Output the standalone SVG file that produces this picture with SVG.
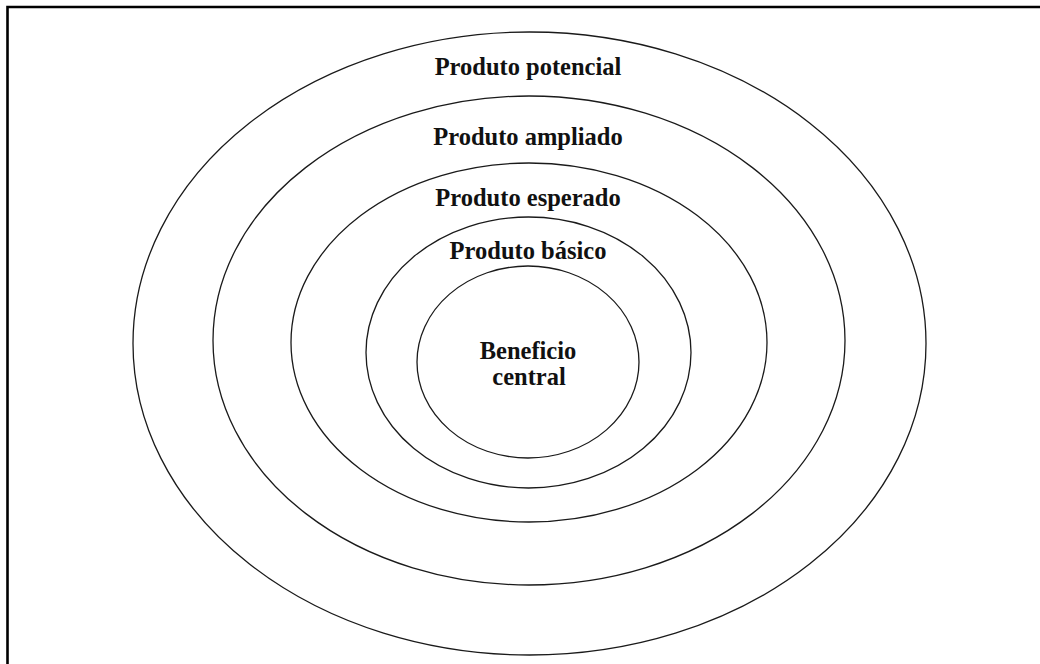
<svg xmlns="http://www.w3.org/2000/svg" width="1040" height="664" viewBox="0 0 1040 664">
<style>
.ring{fill:none;stroke:#1a1a1a;stroke-width:1.3}
.lbl{font-family:"Liberation Serif","Times New Roman",serif;font-weight:bold;font-size:24.5px;fill:#111;text-anchor:middle}
.frame{fill:none;stroke:#000;stroke-width:2.6}
</style>
<rect width="1040" height="664" fill="#fff"/>
<path class="frame" d="M7.5 664 V7 H1040"/>
<g id="produto-potencial">
<ellipse class="ring" cx="529.5" cy="343.5" rx="396.5" ry="311.5"/>
<text class="lbl" x="528" y="75">Produto potencial</text>
</g>
<g id="produto-ampliado">
<ellipse class="ring" cx="529" cy="340.5" rx="316" ry="244.5"/>
<text class="lbl" x="528" y="145">Produto ampliado</text>
</g>
<g id="produto-esperado">
<ellipse class="ring" cx="529" cy="342.5" rx="238" ry="179.5"/>
<text class="lbl" x="528" y="206">Produto esperado</text>
</g>
<g id="produto-basico">
<ellipse class="ring" cx="528.5" cy="352.5" rx="162.5" ry="135.5"/>
<text class="lbl" x="528" y="259">Produto básico</text>
</g>
<g id="beneficio-central">
<ellipse class="ring" cx="528" cy="362" rx="111" ry="96"/>
<text class="lbl" x="528" y="359">Beneficio</text>
<text class="lbl" x="529" y="385">central</text>
</g>
<g id="connectors"/>
</svg>
